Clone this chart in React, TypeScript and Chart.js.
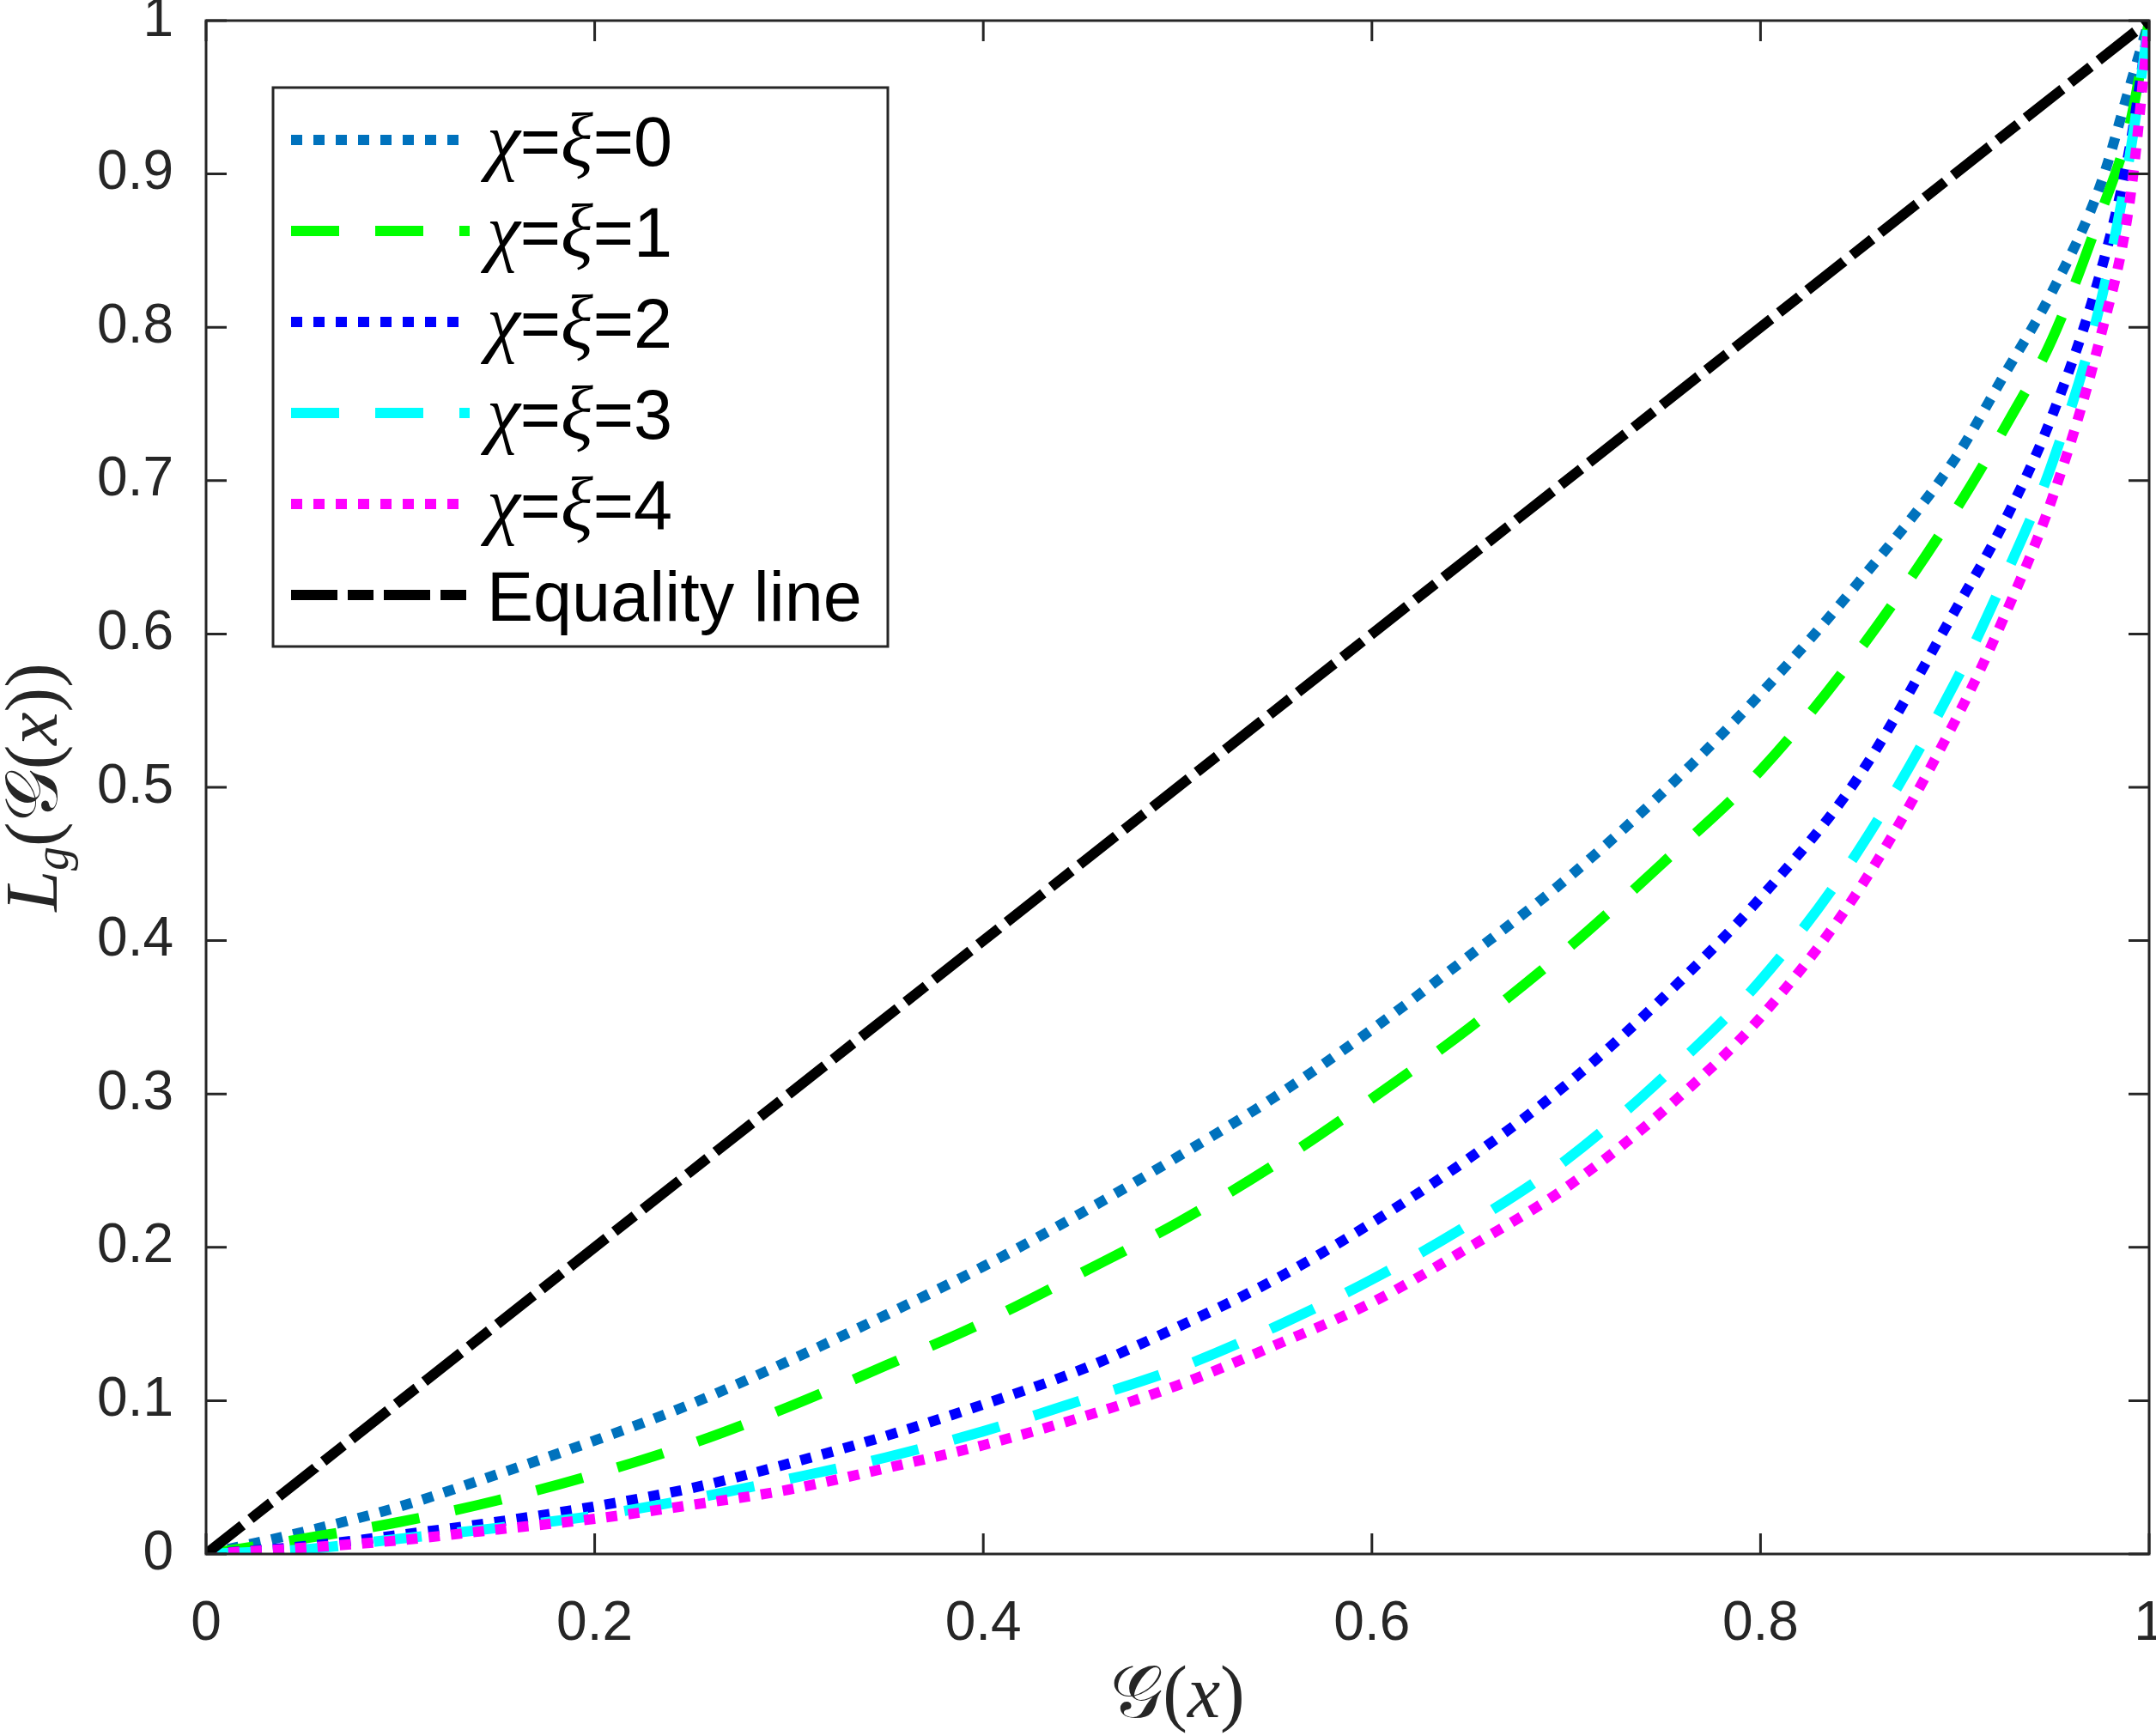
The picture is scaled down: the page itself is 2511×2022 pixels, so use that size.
import React, { useEffect, useRef } from "react";
import { Chart, registerables } from "chart.js";

Chart.register(...registerables);

// population share G(x) at which the curves were read
const shares = [0, 0.05, 0.1, 0.15, 0.2, 0.25, 0.3, 0.35, 0.4, 0.45, 0.5, 0.55, 0.6, 0.65, 0.7, 0.75, 0.8, 0.85, 0.9, 0.925, 0.95, 0.975, 0.99, 1];

// Lorenz curve values for chi = xi = 0..4
const lorenz0 = [0, 0.0144, 0.031, 0.052, 0.074, 0.098, 0.126, 0.156, 0.1875, 0.222, 0.259, 0.298, 0.342, 0.39, 0.44, 0.497, 0.561, 0.633, 0.714, 0.768, 0.823, 0.893, 0.957, 1];
const lorenz1 = [0, 0.01, 0.021, 0.035, 0.052, 0.072, 0.096, 0.123, 0.151, 0.183, 0.216, 0.254, 0.297, 0.343, 0.394, 0.451, 0.511, 0.588, 0.68, 0.733, 0.792, 0.874, 0.932, 1];
const lorenz2 = [0, 0.005, 0.0125, 0.021, 0.031, 0.043, 0.059, 0.077, 0.0975, 0.12, 0.148, 0.179, 0.216, 0.258, 0.306, 0.363, 0.428, 0.506, 0.615, 0.672, 0.742, 0.836, 0.917, 1];
const lorenz3 = [0, 0.003, 0.01, 0.017, 0.025, 0.036, 0.049, 0.063, 0.08, 0.1, 0.121, 0.148, 0.179, 0.215, 0.257, 0.311, 0.374, 0.458, 0.568, 0.635, 0.711, 0.816, 0.912, 1];
const lorenz4 = [0, 0.004, 0.009, 0.016, 0.023, 0.032, 0.042, 0.056, 0.071, 0.089, 0.11, 0.136, 0.164, 0.2, 0.239, 0.289, 0.35, 0.432, 0.543, 0.61, 0.688, 0.794, 0.882, 1];

const equalityX = [0, 1];
const equalityY = [0, 1];

const seriesLabels = ["χ=ξ=0", "χ=ξ=1", "χ=ξ=2", "χ=ξ=3", "χ=ξ=4", "Equality line"];

const xTickValues = [0, 0.2, 0.4, 0.6, 0.8, 1];
const yTickValues = [0, 0.1, 0.2, 0.3, 0.4, 0.5, 0.6, 0.7, 0.8, 0.9, 1];

const INK = "#262626";
const SANS = '"Liberation Sans", Arial, sans-serif';
const SERIF = '"Liberation Serif", "DejaVu Serif", serif';

const DOTS = [13, 13];
const DASHES = [56, 42];
const DASHDOT = [54, 12, 30, 12];

const pts = (xs: number[], ys: number[]) => xs.map((x, i) => ({ x, y: ys[i] }));
const fmt = (v: number | string) => String(Math.round(Number(v) * 10) / 10);

type Piece = { t: string; font: string; dy?: number };

function drawPieces(ctx: CanvasRenderingContext2D, pieces: Piece[], x: number, y: number, center: boolean) {
  let w = 0;
  for (const p of pieces) {
    ctx.font = p.font;
    w += ctx.measureText(p.t).width;
  }
  let cx = center ? x - w / 2 : x;
  for (const p of pieces) {
    ctx.font = p.font;
    ctx.fillText(p.t, cx, y + (p.dy || 0));
    cx += ctx.measureText(p.t).width;
  }
}

function labelPieces(label: string): Piece[] {
  return Array.from(label).map((ch) =>
    /[\u0370-\u03ff]/.test(ch)
      ? { t: ch, font: `italic 88px ${SERIF}` }
      : { t: ch, font: `81px ${SANS}` }
  );
}

const matlabAxes = {
  id: "matlabAxes",
  afterDraw(chart: any) {
    const ctx: CanvasRenderingContext2D = chart.ctx;
    const { left, right, top, bottom } = chart.chartArea;
    const xs = chart.scales.x;
    const ys = chart.scales.y;
    ctx.save();

    // inward ticks on all four sides
    ctx.strokeStyle = INK;
    ctx.lineWidth = 3;
    ctx.beginPath();
    for (const v of xTickValues) {
      const px = xs.getPixelForValue(v);
      ctx.moveTo(px, bottom);
      ctx.lineTo(px, bottom - 24);
      ctx.moveTo(px, top);
      ctx.lineTo(px, top + 24);
    }
    for (const v of yTickValues) {
      const py = ys.getPixelForValue(v);
      ctx.moveTo(left, py);
      ctx.lineTo(left + 24, py);
      ctx.moveTo(right, py);
      ctx.lineTo(right - 24, py);
    }
    ctx.stroke();
    ctx.strokeRect(left, top, right - left, bottom - top);

    // legend box
    const bx = 318, by = 102, bw = 716, bh = 651;
    ctx.fillStyle = "#ffffff";
    ctx.fillRect(bx, by, bw, bh);
    ctx.lineWidth = 3;
    ctx.strokeStyle = INK;
    ctx.strokeRect(bx, by, bw, bh);
    chart.data.datasets.forEach((ds: any, i: number) => {
      const cy = by + 61 + i * 106;
      ctx.strokeStyle = ds.borderColor;
      ctx.lineWidth = ds.borderWidth;
      ctx.lineCap = "butt";
      ctx.setLineDash(ds.borderDash || []);
      ctx.beginPath();
      ctx.moveTo(339, cy);
      ctx.lineTo(547, cy);
      ctx.stroke();
      ctx.setLineDash([]);
      ctx.fillStyle = "#000000";
      ctx.textBaseline = "alphabetic";
      ctx.textAlign = "left";
      drawPieces(ctx, labelPieces(ds.label), 567, cy + 30, false);
    });

    // axis titles
    ctx.fillStyle = INK;
    ctx.textAlign = "left";
    ctx.textBaseline = "alphabetic";
    const it = `italic 86px ${SERIF}`;
    const up = `86px ${SERIF}`;
    drawPieces(
      ctx,
      [
        { t: "𝒢", font: up },
        { t: "(", font: up },
        { t: "x", font: it },
        { t: ")", font: up },
      ],
      (left + right) / 2,
      2000,
      true
    );
    ctx.translate(66, (top + bottom) / 2);
    ctx.rotate(-Math.PI / 2);
    drawPieces(
      ctx,
      [
        { t: "L", font: it },
        { t: "g", font: `italic 56px ${SERIF}`, dy: 13 },
        { t: "(", font: up },
        { t: "𝒢", font: up },
        { t: "(", font: up },
        { t: "x", font: it },
        { t: ")", font: up },
        { t: ")", font: up },
      ],
      0,
      0,
      true
    );
    ctx.restore();
  },
};

export default function App() {
  const canvasRef = useRef<HTMLCanvasElement | null>(null);

  useEffect(() => {
    document.body.style.margin = "0";
    const canvas = canvasRef.current;
    if (!canvas) return;

    const line = (label: string, xs: number[], ys: number[], color: string, dash: number[], order: number) => ({
      label,
      data: pts(xs, ys),
      borderColor: color,
      backgroundColor: color,
      borderWidth: 12,
      borderDash: dash,
      borderCapStyle: "butt" as const,
      pointRadius: 0,
      fill: false,
      cubicInterpolationMode: "monotone" as const,
      order,
    });

    const chart = new Chart(canvas, {
      type: "line",
      data: {
        datasets: [
          line(seriesLabels[0], shares, lorenz0, "#0072BD", DOTS, 6),
          line(seriesLabels[1], shares, lorenz1, "#00FF00", DASHES, 5),
          line(seriesLabels[2], shares, lorenz2, "#0000FF", DOTS, 4),
          line(seriesLabels[3], shares, lorenz3, "#00FFFF", DASHES, 3),
          line(seriesLabels[4], shares, lorenz4, "#FF00FF", DOTS, 2),
          line(seriesLabels[5], equalityX, equalityY, "#000000", DASHDOT, 1),
        ],
      },
      options: {
        animation: false,
        responsive: false,
        devicePixelRatio: 1,
        layout: { padding: { left: 0, right: 8, top: 24, bottom: 0 } },
        plugins: { legend: { display: false }, tooltip: { enabled: false } },
        scales: {
          x: {
            type: "linear",
            min: 0,
            max: 1,
            grid: { display: false },
            border: { display: false },
            afterBuildTicks: (s: any) => {
              s.ticks = xTickValues.map((value) => ({ value }));
            },
            afterFit: (s: any) => {
              s.height = 212;
              s.paddingLeft = 0;
              s.paddingRight = 0;
            },
            ticks: {
              color: INK,
              font: { family: SANS, size: 64 },
              padding: 36,
              maxRotation: 0,
              autoSkip: false,
              callback: (v: any) => fmt(v),
            },
          },
          y: {
            type: "linear",
            min: 0,
            max: 1,
            grid: { display: false },
            border: { display: false },
            afterBuildTicks: (s: any) => {
              s.ticks = yTickValues.map((value) => ({ value }));
            },
            afterFit: (s: any) => {
              s.width = 240;
              s.paddingTop = 0;
              s.paddingBottom = 0;
            },
            ticks: {
              color: INK,
              font: { family: SANS, size: 64 },
              padding: 30,
              autoSkip: false,
              callback: (v: any) => fmt(v),
            },
          },
        },
      },
      plugins: [matlabAxes],
    });

    return () => {
      chart.destroy();
    };
  }, []);

  return (
    <div style={{ width: 2511, height: 2022, background: "#ffffff" }}>
      <canvas ref={canvasRef} width={2511} height={2022}></canvas>
    </div>
  );
}
